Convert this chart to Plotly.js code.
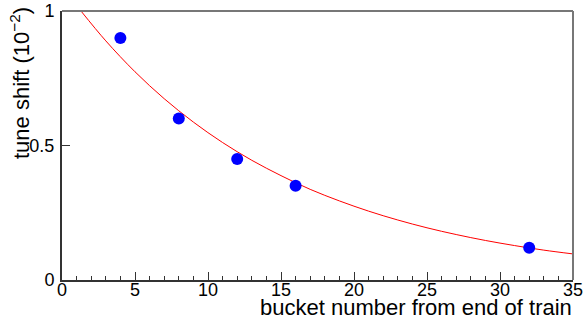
<!DOCTYPE html>
<html>
<head>
<meta charset="utf-8">
<script src="https://cdn.plot.ly/plotly-3.0.1.min.js"></script>
<style>html,body{margin:0;padding:0;background:#fff;}#chart{width:585px;height:322px;}</style>
</head>
<body>
<div id="chart"></div>
<script>
// Measured points
var bucketX = [4, 8, 12, 16, 32];
var tuneShift = [0.90, 0.60, 0.45, 0.35, 0.12];
// Fit curve
var fitX = [1.3, 3, 5, 7, 9, 11, 13, 15, 17, 19, 21, 23, 25, 27, 29, 31, 33, 35];
var fitY = [1.0, 0.889, 0.774, 0.674, 0.587, 0.511, 0.445, 0.388, 0.337, 0.294, 0.256, 0.223, 0.194, 0.169, 0.147, 0.128, 0.111, 0.097];
var xTicks = [0, 5, 10, 15, 20, 25, 30, 35];
var yTicks = [0, 0.5, 1];
var yTickText = ['0', '0.5', '1'];
var xTitle = 'bucket number from end of train';
var yTitle = 'tune shift (10<sup>−2</sup>)';

var font = 'Liberation Sans, Arial, Helvetica, sans-serif';

var traces = [
  {x: fitX, y: fitY, mode: 'lines', line: {color: '#ff0000', width: 1, shape: 'spline'}, hoverinfo: 'none'},
  {x: bucketX, y: tuneShift, mode: 'markers', marker: {color: '#0000ff', size: 12}, hoverinfo: 'none'}
];

// x tick labels placed as annotations at the axis' own data positions
var xTickAnnots = xTicks.map(function (v) {
  return {text: String(v), xref: 'x', yref: 'paper', x: v, y: 0, xanchor: 'center', yanchor: 'top',
          yshift: 1, showarrow: false, borderpad: 0, font: {family: font, size: 18}};
});

var layout = {
  width: 585, height: 322,
  margin: {l: 62, r: 12, t: 11, b: 42},
  paper_bgcolor: '#fff', plot_bgcolor: '#fff',
  showlegend: false,
  font: {family: font, size: 18, color: '#000'},
  xaxis: {
    range: [0, 35], tickvals: xTicks, showticklabels: false,
    ticks: 'inside', ticklen: 8, tickcolor: '#333', tickwidth: 1,
    minor: {dtick: 1, tick0: 0, ticks: 'inside', ticklen: 4, tickcolor: '#333', showgrid: false},
    showgrid: false, zeroline: false, showline: true, linecolor: '#333', linewidth: 2
  },
  yaxis: {
    range: [0, 1], tickvals: yTicks, ticktext: yTickText,
    ticks: 'inside', ticklen: 8, tickcolor: '#333', tickwidth: 1,
    showgrid: false, zeroline: false, showline: true, linecolor: '#333', linewidth: 2,
    tickfont: {family: font, size: 18}, ticklabelstandoff: 2
  },
  shapes: [
    {type: 'line', xref: 'paper', yref: 'paper', x0: 0, x1: 1, y0: 1, y1: 1, line: {color: '#777', width: 2}},
    {type: 'line', xref: 'paper', yref: 'paper', x0: 1, x1: 1, y0: 0, y1: 1, line: {color: '#777', width: 2}}
  ],
  annotations: xTickAnnots.concat([
    {text: xTitle, xref: 'paper', yref: 'paper', x: 1, y: 0, xanchor: 'right', yanchor: 'bottom', yshift: -41, borderpad: 0, showarrow: false, font: {family: font, size: 22}},
    {text: yTitle, xref: 'paper', yref: 'paper', x: 0, y: 1, xanchor: 'center', yanchor: 'top', xshift: -42, yshift: 6, textangle: -90, showarrow: false, font: {family: font, size: 22}}
  ])
};

Plotly.newPlot('chart', traces, layout, {staticPlot: true, displayModeBar: false});
</script>
</body>
</html>
